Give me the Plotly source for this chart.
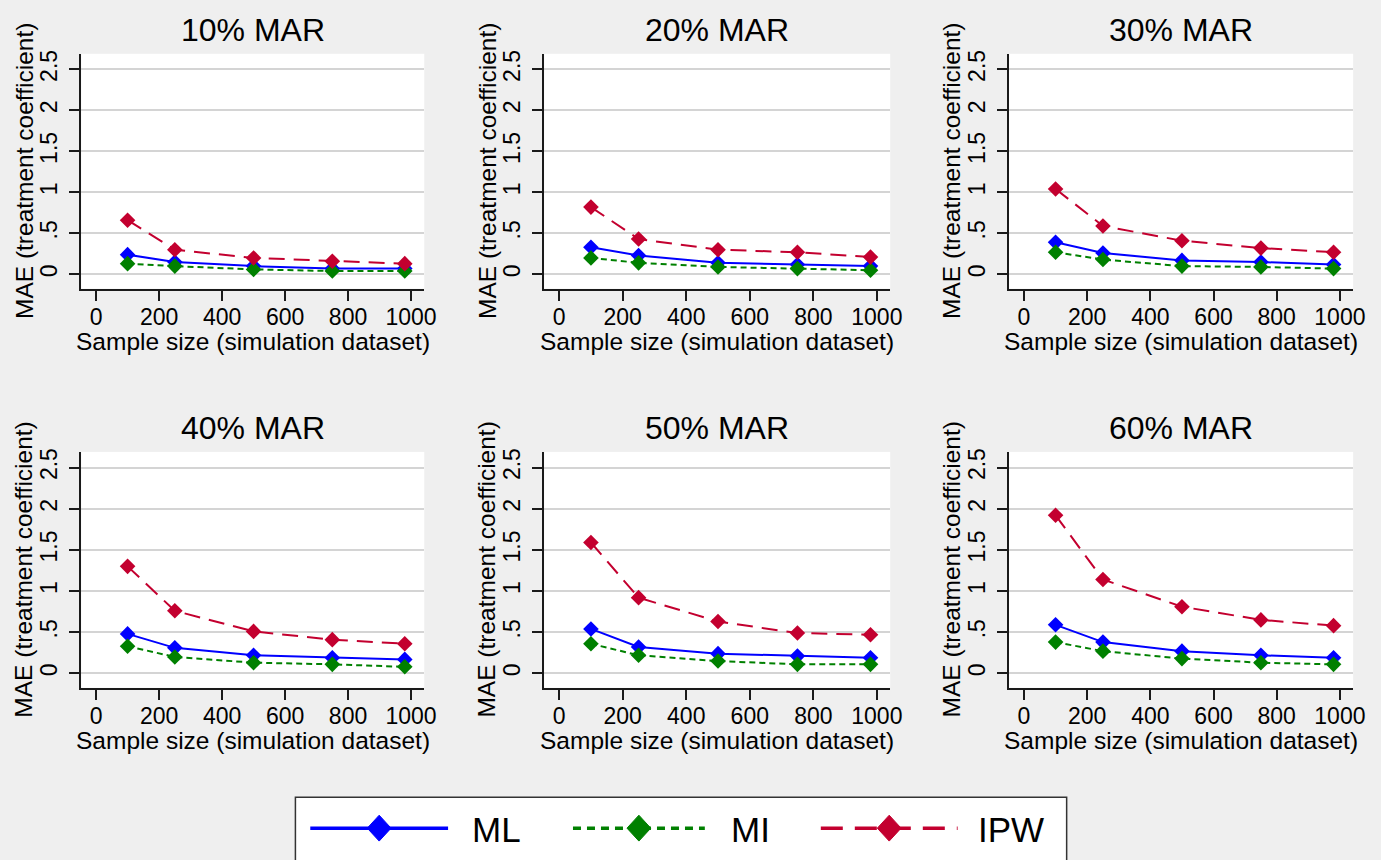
import plotly.graph_objects as go

# Figure size in pixels
W, H = 1381, 860

# ---- data -------------------------------------------------------------
sample_sizes = [100, 250, 500, 750, 980]
panel_titles = ["10% MAR", "20% MAR", "30% MAR", "40% MAR", "50% MAR", "60% MAR"]

ml_mae = [
    [0.24, 0.15, 0.10, 0.07, 0.07],
    [0.33, 0.23, 0.14, 0.12, 0.10],
    [0.39, 0.26, 0.17, 0.15, 0.12],
    [0.48, 0.31, 0.22, 0.19, 0.17],
    [0.54, 0.32, 0.24, 0.21, 0.19],
    [0.59, 0.38, 0.27, 0.22, 0.19],
]
mi_mae = [
    [0.13, 0.10, 0.06, 0.04, 0.04],
    [0.20, 0.14, 0.09, 0.07, 0.05],
    [0.27, 0.18, 0.10, 0.09, 0.07],
    [0.33, 0.20, 0.13, 0.11, 0.08],
    [0.36, 0.22, 0.15, 0.11, 0.11],
    [0.38, 0.27, 0.18, 0.13, 0.11],
]
ipw_mae = [
    [0.66, 0.30, 0.20, 0.16, 0.13],
    [0.82, 0.43, 0.30, 0.27, 0.21],
    [1.04, 0.59, 0.41, 0.32, 0.27],
    [1.30, 0.76, 0.51, 0.41, 0.36],
    [1.59, 0.92, 0.63, 0.49, 0.47],
    [1.92, 1.14, 0.81, 0.65, 0.58],
]

x_tickvals = [0, 200, 400, 600, 800, 1000]
y_tickvals = [0, 0.5, 1, 1.5, 2, 2.5]
y_ticktext = ["0", ".5", "1", "1.5", "2", "2.5"]

series_names = ["ML", "MI", "IPW"]
series_data = [ml_mae, mi_mae, ipw_mae]

# ---- styling ----------------------------------------------------------
FONT = "Liberation Sans, Arial, sans-serif"
BG = "#efefef"
AXIS_COLOR = "#1a1a1a"
GRID_COLOR = "#d4d4d4"
series_colors = {"ML": "#0000ff", "MI": "#008000", "IPW": "#c3002f"}
series_dash = {"ML": "solid", "MI": "6px,4px", "IPW": "16px,9px"}
legend_dash = {"ML": "solid", "MI": "8px,6px", "IPW": "22px,12px"}

# plot-area pixel boxes for the 3 columns and 2 rows
col_px = [(82, 428), (549, 898), (1018, 1365)]
row_px = [(50, 286), (450, 687)]


def px_x(x):
    return x / W


def px_y(y):
    return 1 - y / H


fig = go.Figure()
annotations = []
shapes = []

for i, title in enumerate(panel_titles):
    r, c = divmod(i, 3)
    x0, x1 = col_px[c]
    y0, y1 = row_px[r]
    n = i + 1
    xa = "x" if n == 1 else f"x{n}"
    ya = "y" if n == 1 else f"y{n}"

    for name, data in zip(series_names, series_data):
        fig.add_trace(go.Scatter(
            x=sample_sizes, y=data[i], name=name, mode="lines+markers",
            xaxis=xa, yaxis=ya, showlegend=False, cliponaxis=False,
            line=dict(color=series_colors[name], width=2, dash=series_dash[name]),
            marker=dict(symbol="diamond", size=12, color=series_colors[name]),
        ))

    axis_common = dict(
        ticks="outside", ticklen=10, tickwidth=2, tickcolor=AXIS_COLOR,
        showline=True, linecolor=AXIS_COLOR, linewidth=2, zeroline=False,
        tickfont=dict(family=FONT, size=23, color="#000"),
    )
    fig.layout[f"xaxis{'' if n == 1 else n}"] = dict(
        domain=[px_x(x0), px_x(x1)], anchor=ya, range=[-47, 1042],
        tickvals=x_tickvals, showgrid=False, ticklabelstandoff=-3, **axis_common,
    )
    fig.layout[f"yaxis{'' if n == 1 else n}"] = dict(
        domain=[px_y(y1), px_y(y0)], anchor=xa, range=[-0.175, 2.69],
        tickvals=y_tickvals, ticktext=y_ticktext, tickangle=-90,
        ticklabelstandoff=3,
        showgrid=True, gridcolor=GRID_COLOR, gridwidth=2, **axis_common,
    )

    cx = (x0 + x1) / 2
    cy = (y0 + y1) / 2
    annotations.append(dict(
        text=title, x=px_x(cx), y=px_y(y0 - 24), xref="paper", yref="paper",
        showarrow=False, xanchor="center", yanchor="middle",
        font=dict(family=FONT, size=32, color="#000"),
    ))
    annotations.append(dict(
        text="Sample size (simulation dataset)", x=px_x(cx), y=px_y(y1 + 53),
        xref="paper", yref="paper", showarrow=False,
        xanchor="center", yanchor="middle",
        font=dict(family=FONT, size=24.5, color="#000"),
    ))
    annotations.append(dict(
        text="MAE (treatment coefficient)", x=px_x(x0 - 58), y=px_y(cy),
        xref="paper", yref="paper", showarrow=False, textangle=-90,
        xanchor="center", yanchor="middle",
        font=dict(family=FONT, size=24.5, color="#000"),
    ))

# ---- legend box drawn below the panels --------------------------------
shapes.append(dict(
    type="rect", xref="paper", yref="paper",
    x0=px_x(298), x1=px_x(1076), y0=px_y(797), y1=px_y(866),
    line=dict(color="#333", width=1.5), fillcolor="white", layer="below",
))
legend_line_x = {"ML": (313, 452), "MI": (578, 711), "IPW": (828, 966)}
legend_text_x = {"ML": 474, "MI": 735, "IPW": 985}
LEG_Y = 828
for name in series_names:
    lx0, lx1 = legend_line_x[name]
    shapes.append(dict(
        type="line", xref="paper", yref="paper",
        x0=px_x(lx0), x1=px_x(lx1), y0=px_y(LEG_Y), y1=px_y(LEG_Y),
        line=dict(color=series_colors[name], width=3.5, dash=legend_dash[name]),
    ))
    mx = (lx0 + lx1) / 2
    hw, hh = 12, 13
    path = (f"M {px_x(mx - hw)} {px_y(LEG_Y)} L {px_x(mx)} {px_y(LEG_Y - hh)} "
            f"L {px_x(mx + hw)} {px_y(LEG_Y)} L {px_x(mx)} {px_y(LEG_Y + hh)} Z")
    shapes.append(dict(
        type="path", xref="paper", yref="paper", path=path,
        fillcolor=series_colors[name], line=dict(color=series_colors[name], width=1),
    ))
    annotations.append(dict(
        text=name, x=px_x(legend_text_x[name]), y=px_y(LEG_Y + 1), xref="paper",
        yref="paper", showarrow=False, xanchor="left", yanchor="middle",
        font=dict(family=FONT, size=35, color="#000"),
    ))

fig.update_layout(
    width=W, height=H, margin=dict(l=0, r=0, t=0, b=0),
    paper_bgcolor=BG, plot_bgcolor="white",
    annotations=annotations, shapes=shapes, showlegend=False,
    font=dict(family=FONT),
)

fig.write_html("out.html")
